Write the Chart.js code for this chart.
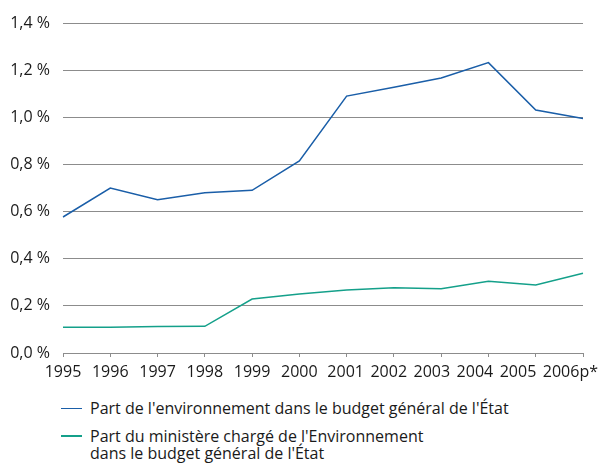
<!DOCTYPE html>
<html><head><meta charset="utf-8">
<script src="https://cdn.jsdelivr.net/npm/chart.js@4"></script>
<style>
html,body{margin:0;padding:0;background:#fff;}
#wrap{position:relative;width:599px;height:465px;font-family:"Open Sans",sans-serif;color:#1a1a1a;}
#cw{position:absolute;left:0;top:0;width:599px;height:385px;}
#legend{position:absolute;left:61px;top:400px;font-size:16px;line-height:17.5px;}
.item{display:flex;align-items:flex-start;margin-bottom:10px;}
.sw{width:21px;height:1.6px;margin-top:7.5px;margin-right:8px;flex:none;}
</style></head>
<body><div id="wrap"><div id="cw"><canvas id="c"></canvas></div><div id="legend"></div></div>
<script>
const categories=["1995","1996","1997","1998","1999","2000","2001","2002","2003","2004","2005","2006p*"];
const seriesEnv=[0.577,0.70,0.65,0.68,0.69,0.815,1.09,1.127,1.167,1.232,1.031,0.995];
const seriesMin=[0.109,0.109,0.112,0.113,0.229,0.25,0.267,0.277,0.273,0.304,0.289,0.338];
const yTicks=[0,0.2,0.4,0.6,0.8,1.0,1.2,1.4];
const labelEnv="Part de l'environnement dans le budget général de l'État";
const labelMin=["Part du ministère chargé de l'Environnement","dans le budget général de l'État"];
const colors=["#1a5ea8","#14a08a"];
const grey="#8c8c8c";
const font={family:"'Open Sans', sans-serif",size:16};
// keep x labels inside the canvas and apart from each other (like the original layout)
const labelFit={id:'labelFit',beforeDraw(chart){
  const sc=chart.scales.x;const items=sc.getLabelItems(chart.chartArea);
  const ctx=chart.ctx;const gap=6.5;
  let limit=chart.width-1;
  for(let i=items.length-1;i>=0;i--){
    const it=items[i];ctx.save();ctx.font=it.font.string;
    const w=ctx.measureText(String(it.label)).width;ctx.restore();
    let cx=it.options.translation[0];
    if(cx+w/2>limit){cx=limit-w/2;}
    it.options.translation[0]=cx;
    limit=cx-w/2-gap;
  }
}};
const chart=new Chart(document.getElementById('c'),{
 type:'line',
 data:{labels:categories,datasets:[
  {label:labelEnv,data:seriesEnv,borderColor:colors[0],borderWidth:1.5,pointRadius:0,tension:0},
  {label:labelMin.join(' '),data:seriesMin,borderColor:colors[1],borderWidth:1.5,pointRadius:0,tension:0}
 ]},
 plugins:[labelFit],
 options:{responsive:true,maintainAspectRatio:false,animation:false,
  layout:{padding:{top:23,right:16,left:0,bottom:0}},
  plugins:{legend:{display:false},tooltip:{enabled:false}},
  scales:{
   x:{offset:false,afterFit:s=>{s.height=32;s.paddingRight=0;s.paddingLeft=0;},
      grid:{drawOnChartArea:false,drawTicks:true,tickLength:4,color:grey},
      border:{display:true,color:grey,width:1},
      ticks:{color:'#1a1a1a',font:font,padding:6,maxRotation:0,autoSkip:false}},
   y:{min:0,max:1.4,afterFit:s=>{s.width=63;s.paddingTop=0;s.paddingBottom=0;},
      afterBuildTicks:s=>{s.ticks=yTicks.map(v=>({value:v}));},
      grid:{drawTicks:false,color:grey,lineWidth:1},border:{display:false},
      ticks:{color:'#1a1a1a',font:font,padding:13,
        callback:v=>v.toFixed(1).replace('.',',')+' %'}}
  }
 }
});
const lg=document.getElementById('legend');
[[labelEnv],labelMin].forEach((lines,i)=>{
 const d=document.createElement('div');d.className='item';
 const s=document.createElement('div');s.className='sw';s.style.background=colors[i];
 const t=document.createElement('div');t.innerHTML=lines.join('<br>');
 d.appendChild(s);d.appendChild(t);lg.appendChild(d);
});
</script></body></html>
